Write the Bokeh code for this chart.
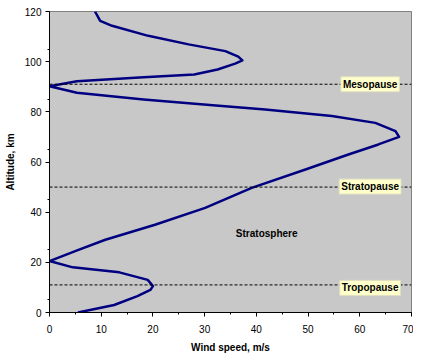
from bokeh.plotting import figure
from bokeh.models import Span, Label, FixedTicker
from bokeh.embed import file_html
from bokeh.resources import INLINE

# Wind speed profile (m/s) versus altitude (km)
altitude = [0, 3, 6.5, 9, 10.5, 13, 16, 18, 20.5, 25, 29, 35, 41.7, 49.7, 57, 63,
            67, 70, 72.3, 75.6, 78.3, 80.9, 82.7, 84.9, 87.6, 90.2, 92.2, 93.8, 94.9, 96.9,
            99.2, 100.5, 102, 104.2, 106.9, 110.3, 114.3, 116.3, 120]
wind_speed = [5.5, 12.5, 17, 19.5, 20, 19, 13.5, 4.5, 0, 5.6, 10.8, 20.4, 30.1, 39.1, 49.5, 57.8,
              63.6, 67.6, 66.9, 63, 54.6, 41.7, 31, 18.2, 5.3, 0, 5.3, 18.2, 28, 32.5,
              35.9, 37.3, 36.5, 34, 26.9, 19.1, 12.1, 9.8, 8.8]

layer_names = ["Tropopause", "Stratopause", "Mesopause"]
layer_altitudes = [11, 50, 91]
label_altitudes = [9.8, 50.2, 91]
region_name = "Stratosphere"
region_pos = (42, 31.5)

x_ticks = [0, 10, 20, 30, 40, 50, 60, 70]
y_ticks = [0, 20, 40, 60, 80, 100, 120]

FONT = "Liberation Sans"

p = figure(frame_width=362, frame_height=301, x_range=(0, 70), y_range=(0, 120),
           output_backend="svg", toolbar_location=None,
           min_border_left=49, min_border_right=2, min_border_top=11, min_border_bottom=38)
p.background_fill_color = "#C8C8C8"
p.border_fill_color = "white"
p.outline_line_color = "#808080"
p.xgrid.visible = False
p.ygrid.visible = False

for ax, ticks in ((p.xaxis, x_ticks), (p.yaxis, y_ticks)):
    ax.ticker = FixedTicker(ticks=ticks, minor_ticks=[t + 5 for t in ticks[:-1]] + ticks)
    ax.major_label_text_font = FONT
    ax.major_label_text_font_size = "10px"
    ax.major_label_text_color = "black"
    ax.axis_label_text_font = FONT
    ax.axis_label_text_font_size = "10px"
    ax.axis_label_text_font_style = "bold"
    ax.axis_label_text_color = "black"
    ax.axis_line_color = "black"
    ax.major_tick_line_color = "black"
    ax.minor_tick_line_color = "black"
    ax.major_tick_out = 4
    ax.major_tick_in = 0
    ax.minor_tick_out = 2
    ax.minor_tick_in = 0

p.xaxis.axis_label = "Wind speed, m/s"
p.yaxis.axis_label = "Altitude, km"
p.xaxis.major_label_standoff = 8
p.yaxis.major_label_standoff = 4
p.xaxis.axis_label_standoff = 6
p.yaxis.axis_label_standoff = 6

for alt in layer_altitudes:
    p.add_layout(Span(location=alt, dimension="width", line_color="black",
                      line_width=1, line_dash="3 2"))

p.line(wind_speed, altitude, line_color="#000080", line_width=2.5, line_join="round")

for name, alt in zip(layer_names, label_altitudes):
    p.add_layout(Label(x=62, y=alt, text=name, text_align="center", text_baseline="middle",
                       text_font=FONT, text_font_size="10px", text_font_style="bold",
                       text_color="black", background_fill_color="#FFFFCC",
                       border_line_color="#E0E0C0", padding=2))

p.add_layout(Label(x=region_pos[0], y=region_pos[1], text=region_name, text_align="center",
                   text_baseline="middle", text_font=FONT, text_font_size="10px",
                   text_font_style="bold", text_color="black"))

open("out.html", "w").write(file_html(p, INLINE))
